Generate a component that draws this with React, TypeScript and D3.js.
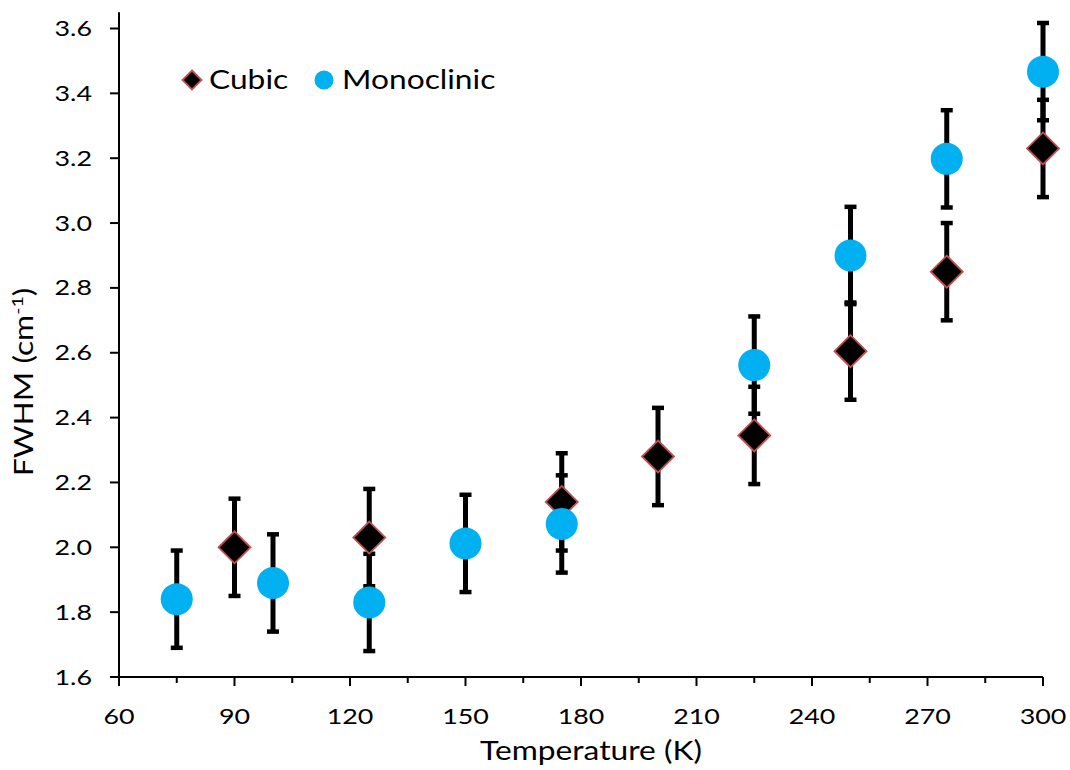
import React from "react";
import * as d3 from "d3";

const cubicT = [90, 125, 175, 200, 225, 250, 275, 300];
const cubicFWHM = [2.0, 2.03, 2.14, 2.28, 2.345, 2.605, 2.85, 3.23];
const cubicErr = [0.15, 0.15, 0.15, 0.15, 0.15, 0.15, 0.15, 0.15];

const monoT = [75, 100, 125, 150, 175, 225, 250, 275, 300];
const monoFWHM = [1.84, 1.89, 1.83, 2.012, 2.072, 2.562, 2.9, 3.198, 3.467];
const monoErr = [0.15, 0.15, 0.15, 0.15, 0.15, 0.15, 0.15, 0.15, 0.15];

const xTicks = [60, 90, 120, 150, 180, 210, 240, 270, 300];
const xMinorTicks = [75, 105, 135, 165, 195, 225, 255, 285];
const yTicks = [1.6, 1.8, 2.0, 2.2, 2.4, 2.6, 2.8, 3.0, 3.2, 3.4, 3.6];

const FONT = "Lato, 'Open Sans', sans-serif";
const SX = 1.22;

function T({ x, y, rot = 0, anchor = "start", size, children }: any) {
  return (
    <g transform={`translate(${x},${y}) rotate(${rot}) scale(${SX},1)`}>
      <text textAnchor={anchor} fontFamily={FONT} fontSize={size} fill="#000">
        {children}
      </text>
    </g>
  );
}

export default function App() {
  const W = 1070, H = 770;
  const x = d3.scaleLinear().domain([60, 300]).range([119, 1043]);
  const y = d3.scaleLinear().domain([1.6, 3.6]).range([677, 28.5]);
  const yTop = y(3.65);
  const cubic = cubicT.map((t, i) => ({ t, v: cubicFWHM[i], e: cubicErr[i] }));
  const mono = monoT.map((t, i) => ({ t, v: monoFWHM[i], e: monoErr[i] }));
  const all = [...cubic, ...mono];
  const diamond = (cx: number, cy: number, r: number) =>
    `M${cx},${cy - r}L${cx + r},${cy}L${cx},${cy + r}L${cx - r},${cy}Z`;
  const capW = 12;
  return (
    <svg width={W} height={H} style={{ position: "absolute", left: 0, top: 0, background: "#fff" }}>
      <line x1={x(60)} x2={x(60)} y1={yTop} y2={y(1.6)} stroke="#000" strokeWidth={2} />
      <line x1={x(60)} x2={x(300)} y1={y(1.6)} y2={y(1.6)} stroke="#000" strokeWidth={2} />
      {yTicks.map((t) => (
        <g key={"y" + t}>
          <line x1={x(60) - 9} x2={x(60)} y1={y(t)} y2={y(t)} stroke="#000" strokeWidth={2} />
          <T x={92} y={y(t) + 7.5} anchor="end" size={22}>
            {d3.format(".1f")(t)}
          </T>
        </g>
      ))}
      {xTicks.map((t) => (
        <g key={"x" + t}>
          <line x1={x(t)} x2={x(t)} y1={y(1.6)} y2={y(1.6) + 9} stroke="#000" strokeWidth={2} />
          <T x={x(t)} y={724} anchor="middle" size={22}>
            {t}
          </T>
        </g>
      ))}
      {xMinorTicks.map((t) => (
        <line key={"xm" + t} x1={x(t)} x2={x(t)} y1={y(1.6)} y2={y(1.6) + 6} stroke="#000" strokeWidth={2} />
      ))}
      <T x={591} y={760} anchor="middle" size={26}>
        Temperature (K)
      </T>
      <T x={33} y={382} rot={-90} anchor="middle" size={26}>
        FWHM (cm<tspan dy={-10} fontSize={16}>-1</tspan><tspan dy={10}>)</tspan>
      </T>
      {all.map((d, i) => (
        <g key={"e" + i} stroke="#000">
          <line x1={x(d.t)} x2={x(d.t)} y1={y(d.v - d.e)} y2={y(d.v + d.e)} strokeWidth={5} />
          <line x1={x(d.t) - capW / 2} x2={x(d.t) + capW / 2} y1={y(d.v + d.e)} y2={y(d.v + d.e)} strokeWidth={4.5} />
          <line x1={x(d.t) - capW / 2} x2={x(d.t) + capW / 2} y1={y(d.v - d.e)} y2={y(d.v - d.e)} strokeWidth={4.5} />
        </g>
      ))}
      {cubic.map((d, i) => (
        <path key={"c" + i} d={diamond(x(d.t), y(d.v), 16)} fill="#000" stroke="#C0504D" strokeWidth={1.8} />
      ))}
      {mono.map((d, i) => (
        <circle key={"m" + i} cx={x(d.t)} cy={y(d.v)} r={16} fill="#00B0F0" />
      ))}
      <path d={diamond(192, 80, 9.5)} fill="#000" stroke="#C0504D" strokeWidth={1.8} />
      <T x={209} y={89} size={26}>Cubic</T>
      <circle cx={324} cy={80} r={9.5} fill="#00B0F0" />
      <T x={342} y={89} size={26}>Monoclinic</T>
    </svg>
  );
}
